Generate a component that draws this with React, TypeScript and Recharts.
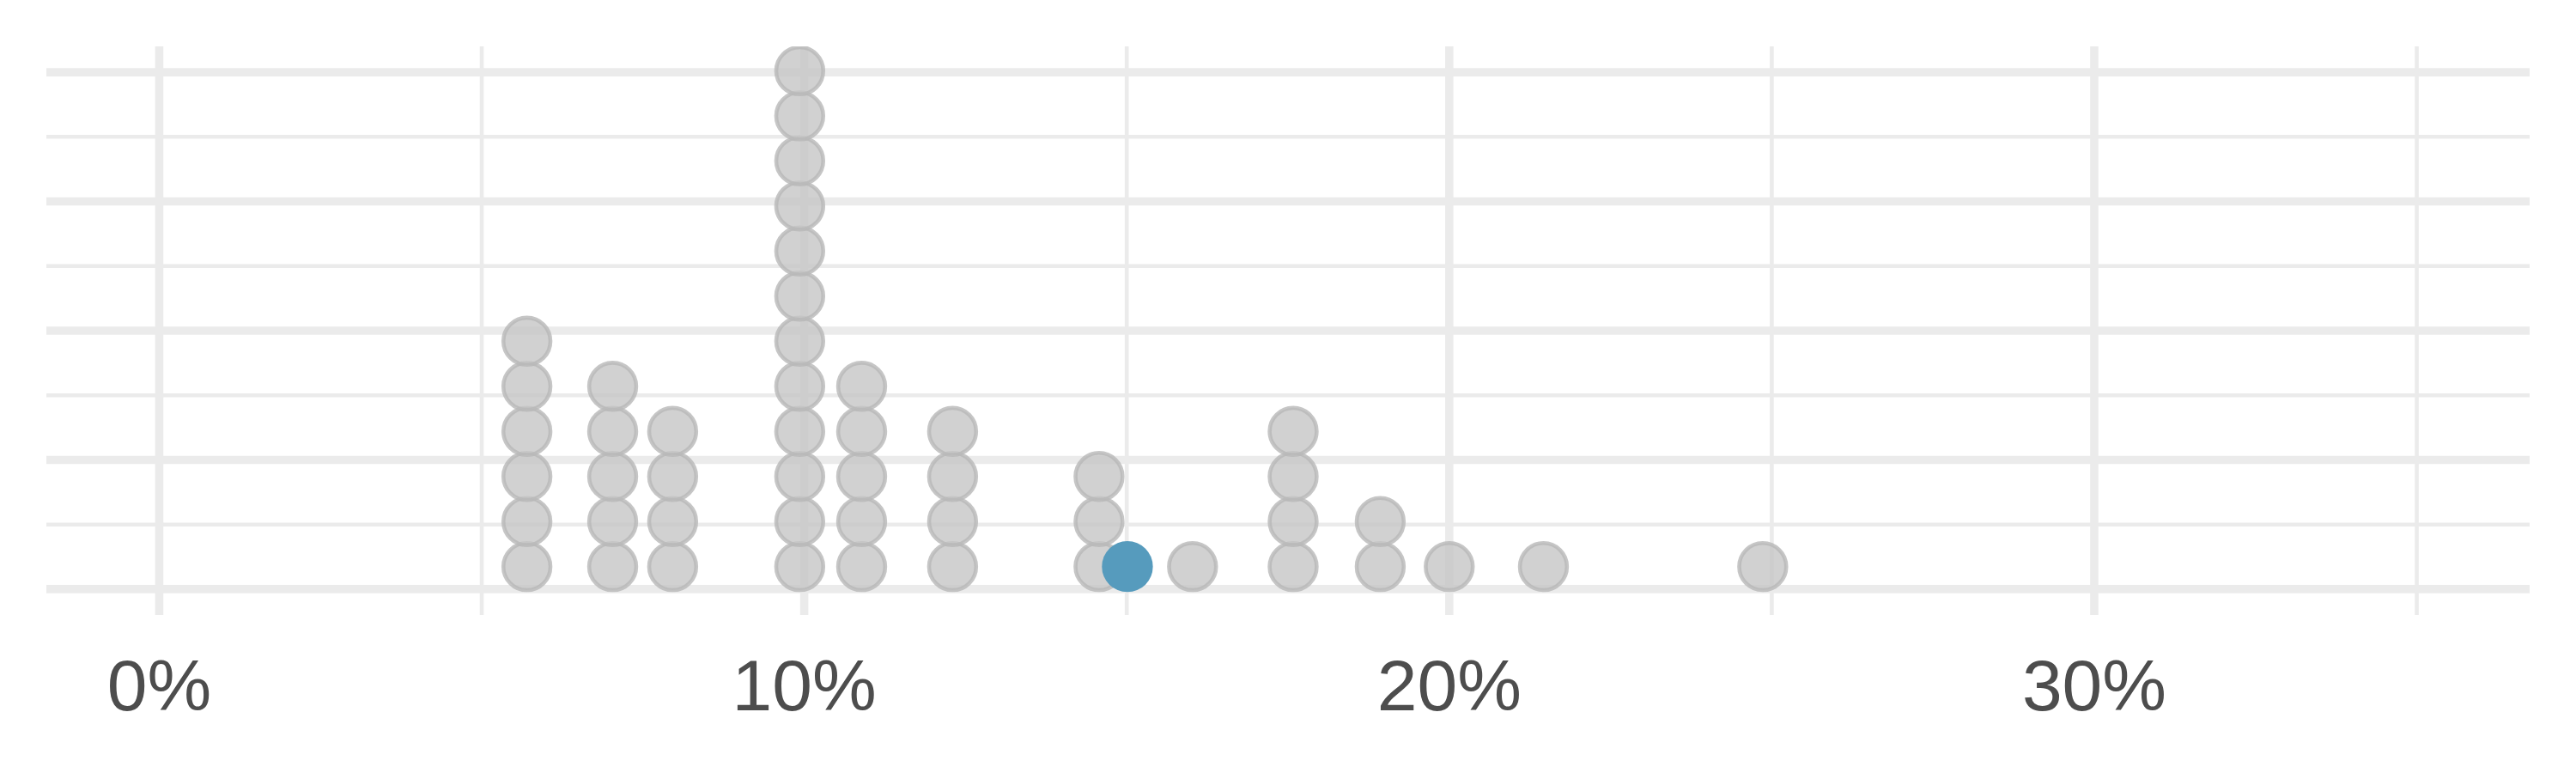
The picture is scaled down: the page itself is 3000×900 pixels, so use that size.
import { ScatterChart, Scatter, XAxis, YAxis, CartesianGrid } from 'recharts'

// dot columns (x = bin centre in %, count = stacked dots)
const binCenters = [5.7, 7.03, 7.96, 9.93, 10.89, 12.3, 14.57, 16.02, 17.58, 18.93, 20.0, 21.46, 24.86]
const binCounts = [6, 5, 4, 12, 5, 4, 3, 1, 4, 2, 1, 1, 1]

// the highlighted observation
const highlightX = [15.01]
const highlightCount = [1]

const xTicks = [0, 10, 20, 30]
const xMinor = [5, 15, 25, 35]
const yMajor = [0, 0.25, 0.5, 0.75, 1]
const yMinor = [0.125, 0.375, 0.625, 0.875]

// vertical distance between stacked dots, in y units
const DOT_STEP = 0.0872

function stack(xs: number[], counts: number[]) {
  const out: { x: number; y: number }[] = []
  xs.forEach((x, i) => {
    for (let k = 0; k < counts[i]; k++) {
      out.push({ x, y: (k + 0.5) * DOT_STEP })
    }
  })
  return out
}

const grayDots = stack(binCenters, binCounts)
const blueDots = stack(highlightX, highlightCount)

// semi-transparent, like the ggplot original (grid shows through)
const GrayDot = (props: any) => (
  <circle
    cx={props.cx}
    cy={props.cy}
    r={27.4}
    fill="#c6c6c6"
    fillOpacity={0.8}
    stroke="#b8b8b8"
    strokeOpacity={0.8}
    strokeWidth={4.6}
  />
)

const BlueDot = (props: any) => <circle cx={props.cx} cy={props.cy} r={29.7} fill="#569BBD" />

export default function App() {
  return (
    <div style={{ position: 'absolute', left: 0, top: 0, background: '#fff' }}>
      <ScatterChart width={3000} height={900} margin={{ top: 54, right: 54, left: 54, bottom: 0 }}>
        <CartesianGrid
          stroke="#ebebeb"
          strokeWidth={4.6}
          horizontalValues={yMinor}
          verticalValues={xMinor}
        />
        <CartesianGrid
          stroke="#ebebeb"
          strokeWidth={9.6}
          horizontalValues={yMajor}
          verticalValues={xTicks}
        />
        <XAxis
          type="number"
          dataKey="x"
          domain={[-1.75, 36.75]}
          allowDataOverflow
          ticks={xTicks}
          tickFormatter={(v) => `${v}%`}
          axisLine={false}
          tickLine={false}
          tickSize={0}
          tickMargin={51}
          height={184}
          tick={{ fill: '#4d4d4d', fontSize: 84, fontFamily: 'Liberation Sans, Arial, sans-serif' }}
        />
        <YAxis type="number" dataKey="y" domain={[-0.05, 1.05]} allowDataOverflow hide />
        <Scatter data={grayDots} shape={GrayDot} isAnimationActive={false} />
        <Scatter data={blueDots} shape={BlueDot} isAnimationActive={false} />
      </ScatterChart>
    </div>
  )
}
